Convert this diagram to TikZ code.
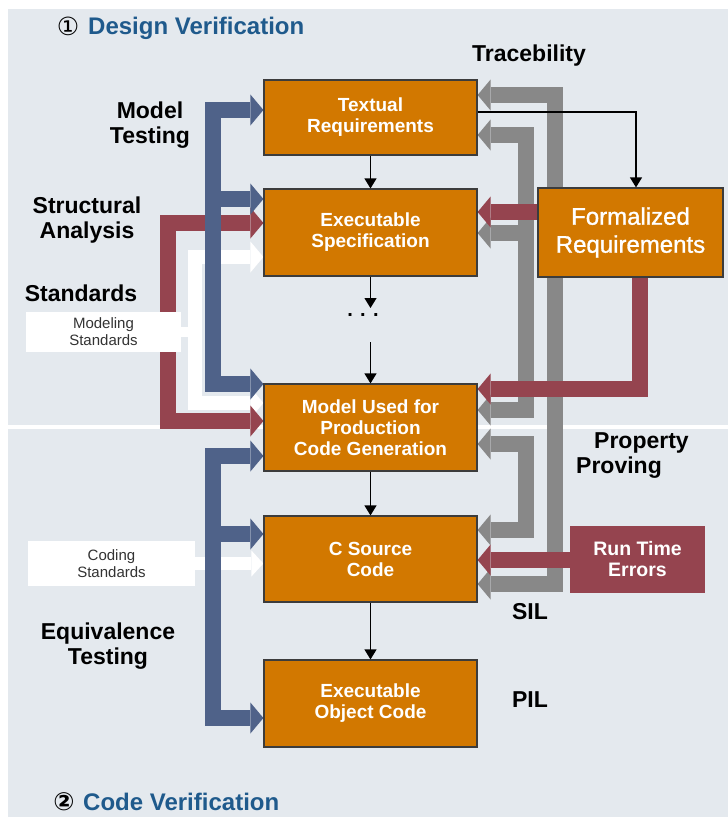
\documentclass[tikz,border=0pt]{standalone}
\usepackage{fontspec}
\setmainfont{Liberation Sans}
\newfontfamily\symfont{DejaVu Sans}
\newfontfamily\medsans{Liberation Sans}[FakeBold=1.2]
\usetikzlibrary{arrows.meta}

\definecolor{bgpanel}{HTML}{E4E9EE}
\definecolor{boxorange}{HTML}{D27800}
\definecolor{boxedge}{HTML}{3C3C3C}
\definecolor{flowblue}{HTML}{4F6289}
\definecolor{flowred}{HTML}{95444F}
\definecolor{flowgray}{HTML}{888888}
\definecolor{titleblue}{HTML}{1F5A8C}
\definecolor{stdtext}{HTML}{333333}

\pgfdeclarelayer{back}
\pgfsetlayers{back,main}

\tikzset{
  stage/.style={draw=boxedge, line width=1.2pt, fill=boxorange, text=white,
    font=\fontsize{19}{21}\selectfont\bfseries, align=center, inner sep=0pt,
    minimum width=213pt},
  stdbox/.style={fill=white, text=stdtext, font=\fontsize{15}{17}\selectfont,
    align=center, inner sep=0pt},
  biglabel/.style={font=\fontsize{23}{25}\selectfont\bfseries, align=center,
    inner sep=0pt},
  titletext/.style={font=\fontsize{24}{26}\selectfont\bfseries, text=titleblue,
    inner sep=0pt},
  fatflow/.style={line width=16pt,
    >={Triangle[length=13pt,width=31pt,line width=0pt]}},
  stdflow/.style={line width=13pt, draw=white,
    >={Triangle[length=12pt,width=26pt,line width=0pt]}},
  flowline/.style={draw=black, line width=1.2pt,
    -{Triangle[length=10pt,width=12pt]}},
}

\begin{document}
\begin{tikzpicture}[x=1pt,y=-1pt]
\useasboundingbox (0,0) rectangle (728,817);

% process stages
\node[stage, minimum height=75pt] (tr) at (370.5,117.5) {Textual\\Requirements};
\node[stage, minimum height=87pt] (es) at (370.5,232.5) {Executable\\Specification};
\node[stage, minimum height=87pt] (mu) at (370.5,427.5) {Model Used for\\Production\\Code Generation};
\node[stage, minimum height=86pt] (cs) at (370.5,559) {C Source\\Code};
\node[stage, minimum height=87pt] (oc) at (370.5,703.5) {Executable\\Object Code};
\node[stage, minimum width=185pt, minimum height=89pt,
      font=\medsans\fontsize{24}{28}\selectfont] (fr) at (630.5,232.5) {Formalized\\Requirements};
\node[fill=flowred, text=white, font=\fontsize{19.5}{21}\selectfont\bfseries,
      align=center, inner sep=0pt, minimum width=135pt, minimum height=67pt]
      (rt) at (637.5,559.5) {Run Time\\Errors};

% standards boxes
\node[stdbox, minimum width=155pt, minimum height=40pt] (ms) at (103.5,332) {Modeling\\Standards};
\node[stdbox, minimum width=167pt, minimum height=45pt] (cst) at (111.5,563.5) {Coding\\Standards};

\begin{pgfonlayer}{back}
  % panel and phase separator
  \fill[white] (0,0) rectangle (728,817);
  \fill[bgpanel] (8,9) rectangle (728,817);
  \draw[white, line width=4.5pt] (8,427) -- (728,427);

  % standards feeding the models
  \draw[white, line width=10pt] (ms.east) -- (ms.east -| 195,0);
  \draw[fatflow, white, line width=14pt, <->] (es.west |- 0,257) -| (195,403) -- (mu.west |- 0,403);
  \draw[stdflow, ->] (cst.east) -- (cs.west |- cst.east);

  % structural analysis
  \draw[fatflow, flowred, <->] (es.west |- 0,223) -| (168,421) -- (mu.west |- 0,421);

  % model testing
  \draw[fatflow, flowblue, <->] (tr.west |- 0,110) -| (213,384) -- (mu.west |- 0,384);
  \draw[fatflow, flowblue, ->] (213,199) -- (es.west |- 0,199);

  % equivalence testing
  \draw[fatflow, flowblue, <->] (mu.west |- 0,456) -| (213,718) -- (oc.west |- 0,718);
  \draw[fatflow, flowblue, ->] (213,534) -- (cs.west |- 0,534);

  % traceability
  \draw[fatflow, flowgray, <->] (tr.east |- 0,95) -| (555,584) -- (cs.east |- 0,584);
  \draw[fatflow, flowgray, <->] (tr.east |- 0,135) -| (526,410) -- (mu.east |- 0,410);
  \draw[fatflow, flowgray, ->] (526,233) -- (es.east |- 0,233);
  \draw[fatflow, flowgray, <->] (mu.east |- 0,444) -| (526,530) -- (cs.east |- 0,530);

  % property proving
  \draw[fatflow, flowred, ->] (fr.west |- 0,212) -- (es.east |- 0,212);
  \draw[fatflow, flowred, ->] (fr.south -| 640,0) |- (mu.east |- 0,389);
  \draw[fatflow, flowred, ->] (rt.west |- 0,560) -- (cs.east |- 0,560);
\end{pgfonlayer}

% refinement chain
\coordinate (d1) at (370.5,308);
\coordinate (d2) at (370.5,342);
\node[font=\fontsize{20}{20}\selectfont\bfseries, inner sep=0pt] (dots) at (363,315) {. . .};
\draw[flowline] (tr.south) -- (es.north);
\draw[flowline] (es.south) -- (d1);
\draw[flowline] (d2) -- (mu.north);
\draw[flowline] (mu.south) -- (cs.north);
\draw[flowline] (cs.south) -- (oc.north);
\draw[flowline] (tr.east |- 0,112) -| (fr.north -| 636,0);

% phase titles
\node[font=\symfont\fontsize{25}{25}\selectfont, inner sep=0pt] (n1) at (68,26) {①};
\node[titletext, anchor=base west] (t1) at (88,34) {Design Verification};
\node[font=\symfont\fontsize{25}{25}\selectfont\bfseries, inner sep=0pt] (n2) at (64,802) {②};
\node[titletext, anchor=base west] (t2) at (83,810) {Code Verification};

% activity labels
\node[biglabel] (lt) at (529,56) {Tracebility};
\node[biglabel] (lmt) at (150,125) {Model\\Testing};
\node[biglabel] (lsa) at (87,220) {Structural\\Analysis};
\node[biglabel] (lst) at (81,293) {Standards};
\node[biglabel] (leq) at (108,646) {Equivalence\\Testing};
\node[biglabel, align=left, anchor=west] (lpp) at (576,456) {\hspace*{18pt}Property\\Proving};
\node[biglabel] (lsil) at (530,612) {SIL};
\node[biglabel] (lpil) at (530,700) {PIL};
\end{tikzpicture}
\end{document}
